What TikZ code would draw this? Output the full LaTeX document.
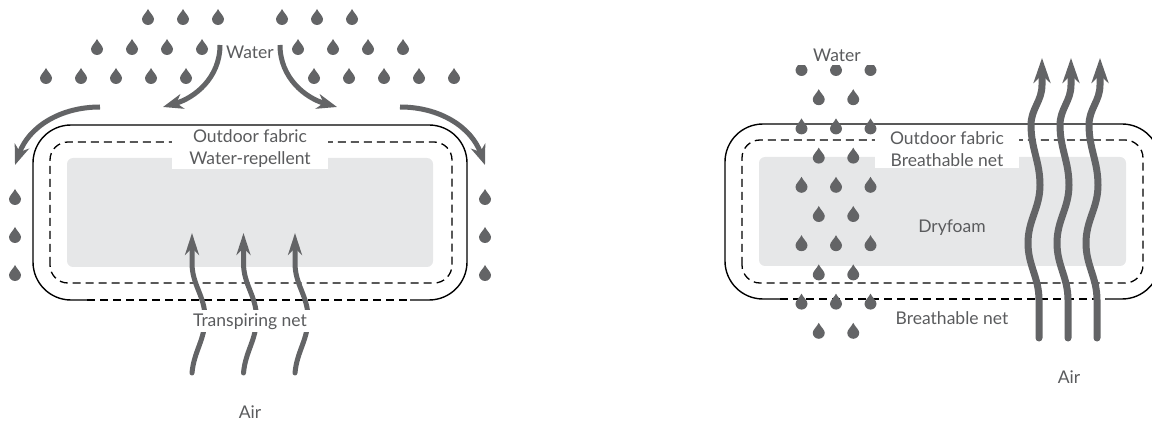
\documentclass[tikz,border=0pt]{standalone}
\usepackage{fontspec}
\setmainfont{Lato}
\usetikzlibrary{arrows.meta}
\definecolor{inkgray}{HTML}{5A5B5D}
\definecolor{dropgray}{HTML}{636466}
\definecolor{foamgray}{HTML}{E6E7E8}
\tikzset{
  lbl/.style={text=inkgray,font=\fontsize{17.5}{22}\selectfont,inner sep=3pt},
  labelbox/.style={lbl,fill=white,align=center,inner xsep=0pt,inner ysep=1pt},
  shell/.style={draw=black,line width=1.4pt},
  netline/.style={draw=black,line width=1.3pt,dash pattern=on 8pt off 5pt},
  foam/.style={fill=foamgray,rounded corners=6pt},
  flowarr/.style={draw=dropgray,line width=5pt,-{Stealth[length=20pt,width=15pt,inset=6pt]}},
  airarr/.style={draw=dropgray,line width=5pt,line cap=round,-{Stealth[length=22pt,width=14pt,inset=7pt]}},
  wavearr/.style={draw=dropgray,line width=7pt,line cap=round,-{Stealth[length=25pt,width=17pt,inset=8pt]}},
  waterdrop/.pic={\fill[dropgray] (0,8) .. controls (1.5,4.5) and (6,1) .. (6,-2)
    arc[start angle=0,end angle=-180,radius=6pt] .. controls (-6,1) and (-1.5,4.5) .. (0,8) -- cycle;}
}
\begin{document}
\begin{tikzpicture}[x=1pt,y=1pt]
  \useasboundingbox (0,0) rectangle (1152,421);
  % left: water-repellent fabric
  \fill[foam] (67,154) rectangle (433,263);
  \draw[shell,rounded corners=38pt] (87,121) -- (33,121) -- (33,296) -- (467,296) -- (467,121) -- (410,121);
  \draw[netline] (87,121) -- (410,121);
  \draw[netline,rounded corners=18pt] (50,138) rectangle (452,279);
  \node[labelbox,minimum width=156pt] (fabricL) at (250,272) {Outdoor fabric\\Water-repellent};
  \foreach \x in {148,183,218,282,317,352} \pic at (\x,404) {waterdrop};
  \foreach \x in {97,132,167,202,298,333,368,403} \pic at (\x,374) {waterdrop};
  \foreach \x in {46,81,116,151,186,314,349,384,419,454} \pic at (\x,345) {waterdrop};
  \foreach \y in {224,186,148} {
    \pic at (15,\y) {waterdrop};
    \pic at (485,\y) {waterdrop};
  }
  \draw[flowarr] (220,376) to[out=-90,in=16] (163,314);
  \draw[flowarr] (280,376) to[out=-90,in=164] (337,314);
  \draw[flowarr] (100,314) to[out=180,in=70] (15,256);
  \draw[flowarr] (400,314) to[out=0,in=110] (485,256);
  \foreach \x in {192,243.5,295}
    \draw[airarr] (\x,48) to[out=85,in=-90] (\x+13,103) to[out=90,in=-90] (\x,158) -- (\x,188);
  \node[lbl,anchor=base] (waterL) at (250,362) {Water};
  \node[lbl,anchor=base,fill=white,minimum width=136pt] (netL) at (250,95) {Transpiring net};
  \node[lbl,anchor=base] (airL) at (250,3) {Air};
  % right: dryfoam
  \fill[foam] (759,155) rectangle (1126,264);
  \draw[shell,rounded corners=38pt] (780,122) -- (725,122) -- (725,297) -- (1160,297) -- (1160,122) -- (1105,122);
  \draw[netline] (780,122) -- (1105,122);
  \draw[netline,rounded corners=18pt] (742,138) rectangle (1143,281);
  \node[labelbox,minimum width=144pt] (fabricR) at (947,272) {Outdoor fabric\\Breathable net};
  \foreach \k in {0,2,4,6,8}
    \foreach \x in {801.5,836,870.5} \pic at (\x,{353-29.2*\k}) {waterdrop};
  \foreach \k in {1,3,5,7,9}
    \foreach \x in {818.75,853.25} \pic at (\x,{353-29.2*\k}) {waterdrop};
  \foreach \x in {1039,1068,1097}
    \draw[wavearr] (\x,83) -- (\x,121) to[out=90,in=-90] (\x-11,178) to[out=90,in=-90] (\x+1,236)
      to[out=90,in=-90] (\x-8,296) to[out=90,in=-90] (\x+3,336) -- (\x+3,363);
  \node[lbl,anchor=base,fill=white,minimum width=92pt] (waterR) at (837,359) {Water};
  \node[lbl,anchor=base] (foamR) at (952,188) {Dryfoam};
  \node[lbl,anchor=base] (netR) at (952,97) {Breathable net};
  \node[lbl,anchor=base] (airR) at (1069,38) {Air};
\end{tikzpicture}
\end{document}
